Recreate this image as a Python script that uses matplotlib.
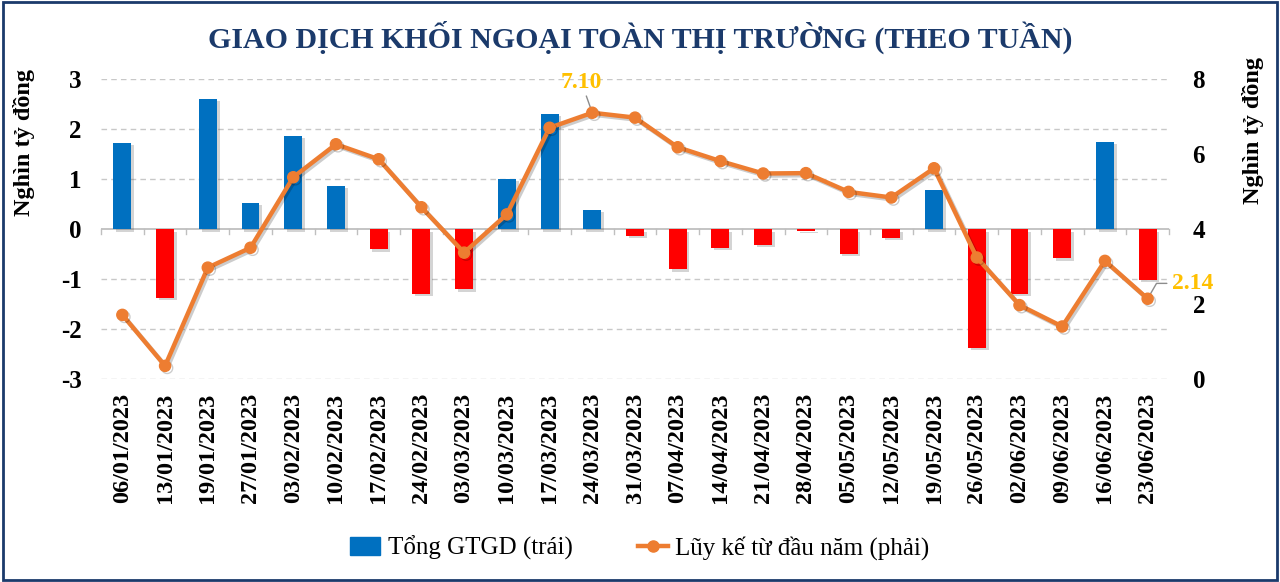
import matplotlib
matplotlib.use("Agg")
import matplotlib.pyplot as plt
import matplotlib.patheffects as pe
from matplotlib.patches import Rectangle
from matplotlib.lines import Line2D
import numpy as np

weeks = ["06/01/2023", "13/01/2023", "19/01/2023", "27/01/2023", "03/02/2023",
         "10/02/2023", "17/02/2023", "24/02/2023", "03/03/2023", "10/03/2023",
         "17/03/2023", "24/03/2023", "31/03/2023", "07/04/2023", "14/04/2023",
         "21/04/2023", "28/04/2023", "05/05/2023", "12/05/2023", "19/05/2023",
         "26/05/2023", "02/06/2023", "09/06/2023", "16/06/2023", "23/06/2023"]
weekly_total = [1.73, -1.37, 2.61, 0.53, 1.87, 0.87, -0.40, -1.29, -1.20, 1.01,
                2.31, 0.39, -0.13, -0.80, -0.37, -0.31, -0.03, -0.49, -0.17, 0.78,
                -2.37, -1.29, -0.58, 1.75, -1.01]
cumulative = [1.71, 0.35, 2.97, 3.50, 5.38, 6.26, 5.86, 4.58, 3.37, 4.39,
              6.70, 7.10, 6.97, 6.18, 5.81, 5.48, 5.49, 4.99, 4.84, 5.62,
              3.24, 1.97, 1.40, 3.15, 2.14]
left_ticks = [-3, -2, -1, 0, 1, 2, 3]
right_ticks = [0, 2, 4, 6, 8]

title = "GIAO DỊCH KHỐI NGOẠI TOÀN THỊ TRƯỜNG (THEO TUẦN)"
ylabel = "Nghìn tỷ đồng"
legend_bar = "Tổng GTGD (trái)"
legend_line = "Lũy kế từ đầu năm (phải)"

BLUE = "#0070C0"
RED = "#FF0000"
ORANGE = "#ED7D31"
GOLD = "#FFC000"
NAVY = "#1B3A6B"
SERIF = "Liberation Serif"

fig = plt.figure(figsize=(12.8, 5.82), dpi=100)
fig.patch.set_facecolor("white")
fig.patches.append(Rectangle((0.002, 0.004), 0.996, 0.992, transform=fig.transFigure,
                             fill=False, edgecolor=NAVY, linewidth=2.0))

ax = fig.add_axes([101 / 1280, 1 - 379 / 582, (1169 - 101) / 1280, 300 / 582])
ax2 = ax.twinx()

x = np.arange(len(weeks))
colors = [BLUE if v >= 0 else RED for v in weekly_total]
bars = ax.bar(x, weekly_total, width=0.42, color=colors, zorder=3)
for b in bars:
    b.set_path_effects([pe.SimplePatchShadow(offset=(2, -2), alpha=0.25, shadow_rgbFace="#555555"), pe.Normal()])

ax.set_xlim(-0.5, len(weeks) - 0.5)
ax.set_ylim(-3, 3)
ax.set_yticks(left_ticks)
ax.set_yticklabels([str(t) for t in left_ticks])
for t in left_ticks:
    if t != 0:
        ax.axhline(t, color="#C8C8C8", linestyle=(0, (4, 3)), linewidth=1.0, zorder=0)
ax.axhline(0, color="#BFBFBF", linewidth=1.3, zorder=2)

ax.set_xticks(x)
ax.set_xticklabels(weeks, rotation=90, fontfamily=SERIF, fontweight="bold", fontsize=17.5)
ax.tick_params(axis="x", length=0, pad=10)
for b in np.arange(-0.5, len(weeks), 1.0):
    ax.plot([b, b], [0, -0.1], color="#BFBFBF", linewidth=1.0, zorder=2, clip_on=False)

ax.tick_params(axis="y", length=0, pad=14, labelsize=18)
for lab in ax.get_yticklabels():
    lab.set_fontfamily(SERIF)
    lab.set_fontweight("bold")

for sp in ax.spines.values():
    sp.set_visible(False)
for sp in ax2.spines.values():
    sp.set_visible(False)

ax2.plot(x, cumulative, color=ORANGE, linewidth=3.2, marker="o", markersize=8,
         zorder=5, path_effects=[pe.SimpleLineShadow(offset=(1.5, -1.5), alpha=0.2), pe.Normal()])
ax2.set_ylim(0, 8)
ax2.set_yticks(right_ticks)
ax2.set_yticklabels([str(t) for t in right_ticks])
ax2.tick_params(axis="y", length=0, pad=17, labelsize=18)
for lab in ax2.get_yticklabels():
    lab.set_fontfamily(SERIF)
    lab.set_fontweight("bold")
ax2.patch.set_visible(False)

ax.set_ylabel(ylabel, fontfamily=SERIF, fontweight="bold", fontsize=17.5)
ax.yaxis.set_label_coords(-0.062, 0.787)
ax2.set_ylabel(ylabel, fontfamily=SERIF, fontweight="bold", fontsize=17.5, rotation=90)
ax2.yaxis.set_label_coords(1.068, 0.83)

i_max = 11
ax2.annotate(f"{cumulative[i_max]:.2f}", xy=(x[i_max], cumulative[i_max]),
             xytext=(x[i_max] - 0.25, 7.62), textcoords="data",
             fontfamily=SERIF, fontweight="bold", fontsize=17, color=GOLD,
             ha="center", va="bottom",
             arrowprops=dict(arrowstyle="-", color="#8C8C8C", lw=1.0, shrinkA=0, shrinkB=4))
i_last = len(weeks) - 1
ax2.annotate(f"{cumulative[i_last]:.2f}", xy=(x[i_last], cumulative[i_last]),
             xytext=(x[i_last] + 0.58, 2.55), textcoords="data",
             fontfamily=SERIF, fontweight="bold", fontsize=17, color=GOLD,
             ha="left", va="center", annotation_clip=False,
             arrowprops=dict(arrowstyle="-", color="#8C8C8C", lw=1.0, shrinkA=2, shrinkB=4,
                             connectionstyle="angle,angleA=180,angleB=60,rad=0"))

fig.text(0.5, 1 - 37 / 582, title, ha="center", va="center", fontfamily=SERIF,
         fontweight="bold", fontsize=21.5, color=NAVY)

handles = [Rectangle((0, 0), 1, 1, color=BLUE),
           Line2D([0], [0], color=ORANGE, linewidth=3.2, marker="o", markersize=8)]
fig.legend(handles, [legend_bar, legend_line], loc="center", bbox_to_anchor=(0.5, 1 - 548 / 582),
           ncol=2, frameon=False, prop={"family": SERIF, "size": 18}, handlelength=1.2,
           columnspacing=2.6, handletextpad=0.3)

fig.savefig("out.png", dpi=100, facecolor="white")
